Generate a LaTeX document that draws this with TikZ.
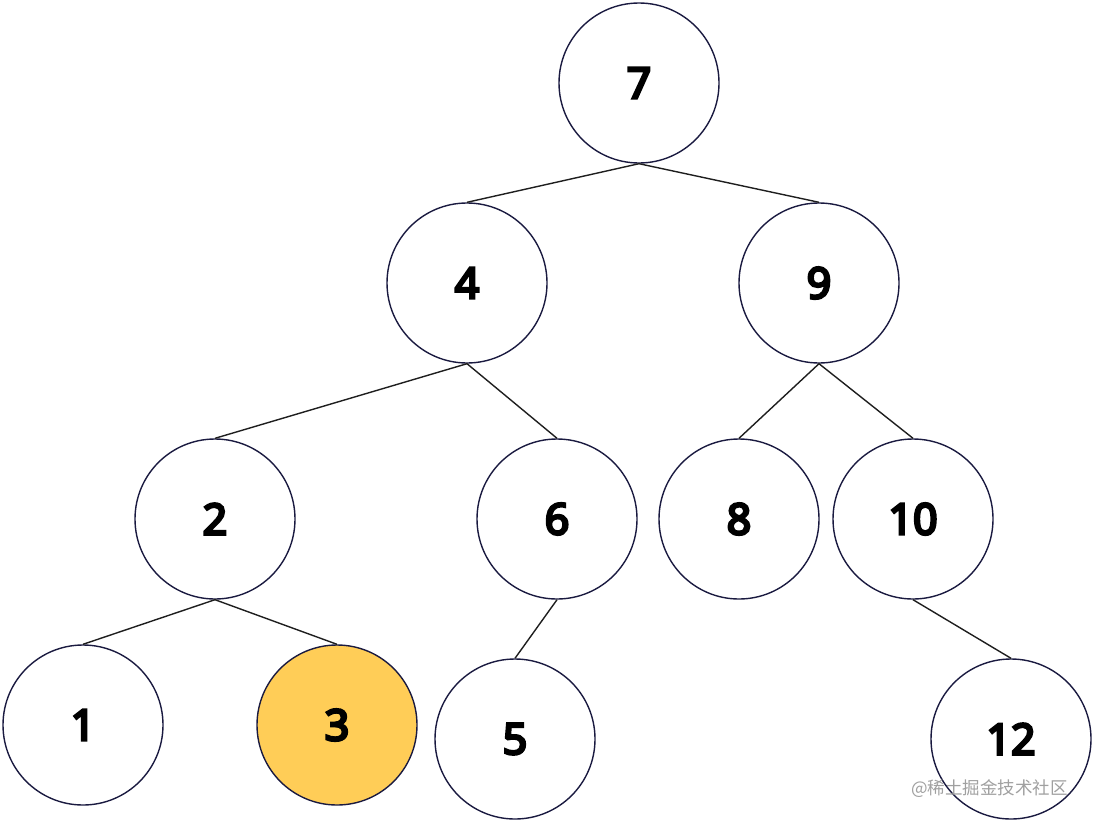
\documentclass[tikz,border=0pt]{standalone}
\usepackage{fontspec}
\setmainfont{Noto Sans}
\newfontfamily\numfont{Noto Sans}[FakeBold=6]
\newfontfamily\cjk{Noto Sans CJK SC}
\definecolor{ringcol}{RGB}{26,26,64}
\definecolor{hilite}{RGB}{255,205,87}
\definecolor{edgecol}{RGB}{30,30,30}
\definecolor{wmcol}{RGB}{160,160,160}
\begin{document}
\begin{tikzpicture}[x=1pt,y=-1pt,
  treenode/.style={circle,draw=ringcol,line width=1.4pt,minimum size=160pt,inner sep=0pt,fill=white,
    font=\numfont\fontsize{43}{50}\selectfont},
  hot/.style={fill=hilite},
  link/.style={draw=edgecol,line width=1.4pt}]
\useasboundingbox (0,0) rectangle (1094,822);
\node[treenode] (n7) at (639,83) {7};
\node[treenode] (n4) at (467,283) {4};
\node[treenode] (n9) at (819,283) {9};
\node[treenode] (n2) at (215,519) {2};
\node[treenode] (n6) at (557,519) {6};
\node[treenode] (n8) at (739,519) {8};
\node[treenode] (n10) at (913,519) {10};
\node[treenode] (n1) at (83,725) {1};
\node[treenode,hot] (n3) at (337,725) {3};
\node[treenode] (n5) at (515,739) {5};
\node[treenode] (n12) at (1011,739) {12};
\draw[link] (n7.south) -- (n4.north);
\draw[link] (n7.south) -- (n9.north);
\draw[link] (n4.south) -- (n2.north);
\draw[link] (n4.south) -- (n6.north);
\draw[link] (n9.south) -- (n8.north);
\draw[link] (n9.south) -- (n10.north);
\draw[link] (n2.south) -- (n1.north);
\draw[link] (n2.south) -- (n3.north);
\draw[link] (n6.south) -- (n5.north);
\draw[link] (n10.south) -- (n12.north);
\node[font=\cjk\fontsize{17.5}{19}\selectfont,text=wmcol,anchor=west,inner sep=0pt] (wm) at (911,789) {@稀土掘金技术社区};
\end{tikzpicture}
\end{document}
